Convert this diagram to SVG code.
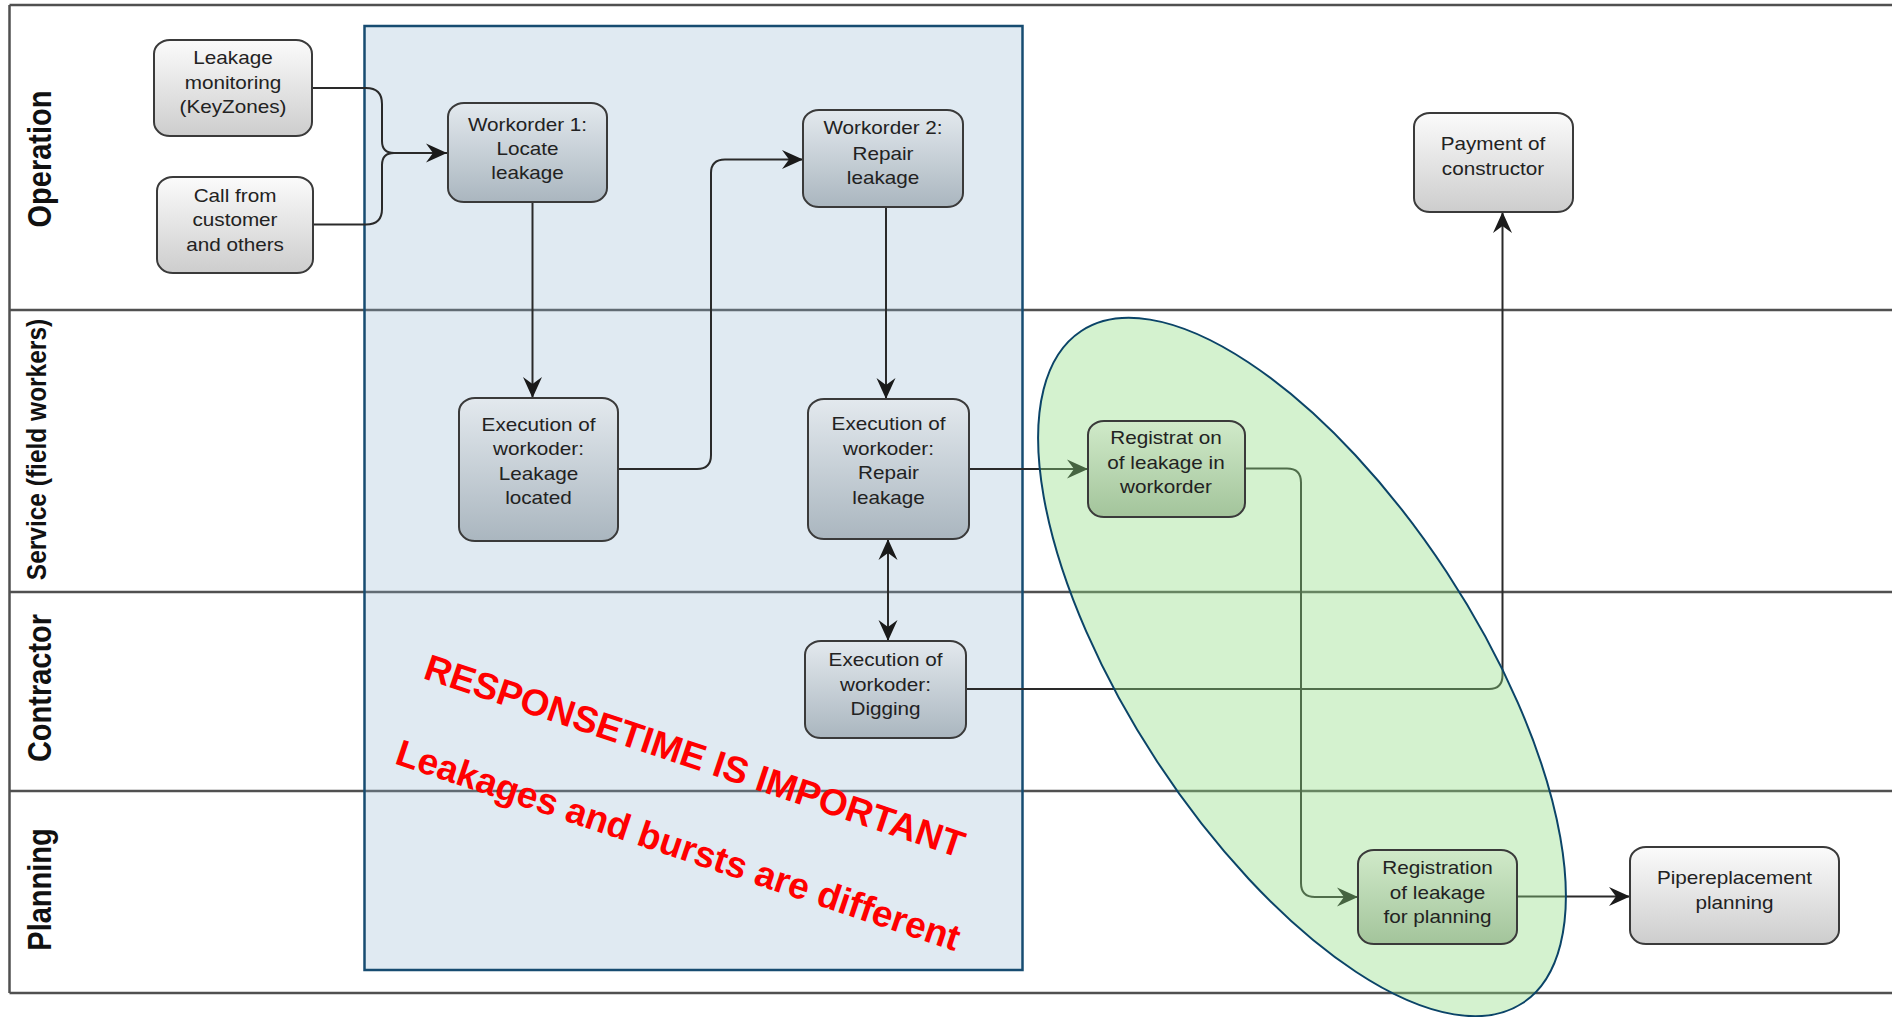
<svg xmlns="http://www.w3.org/2000/svg" width="1892" height="1017" viewBox="0 0 1892 1017">
<defs>
<style>
.lane{stroke:#505050;stroke-width:2.5;fill:none}
.lbl{font-family:"Liberation Sans",Arial,sans-serif;font-weight:bold;font-size:29px;fill:#111;text-anchor:middle}
.box{stroke:#3a3a3a;stroke-width:2}
.t{font-family:"Liberation Sans",Arial,sans-serif;font-size:18px;fill:#222;text-anchor:middle}
.c{fill:none;stroke:#2a2a2a;stroke-width:2}
.red{font-family:"Liberation Sans",Arial,sans-serif;font-weight:bold;font-size:37px;fill:#ff0000}
</style>
<linearGradient id="gGray" x1="0" y1="0" x2="0" y2="1">
<stop offset="0" stop-color="#fbfbfb"/><stop offset="1" stop-color="#cdcdcd"/>
</linearGradient>
<linearGradient id="gBlue" x1="0" y1="0" x2="0" y2="1">
<stop offset="0" stop-color="#e3e9ee"/><stop offset="1" stop-color="#aab6bf"/>
</linearGradient>
<linearGradient id="gGreen" x1="0" y1="0" x2="0" y2="1">
<stop offset="0" stop-color="#d0eac9"/><stop offset="1" stop-color="#a3c49b"/>
</linearGradient>
<marker id="arr" viewBox="-22 -11 23 22" refX="0" refY="0" markerWidth="23" markerHeight="22" markerUnits="userSpaceOnUse" orient="auto-start-reverse">
<path d="M0,0 L-21,-9.5 L-14,0 L-21,9.5 Z" fill="#1a1a1a"/>
</marker>
</defs>

<rect width="1892" height="1017" fill="#ffffff"/>

<g id="lanes">
<path class="lane" d="M9.5,5 H1892 M9.5,310 H1892 M9.5,592 H1892 M9.5,791 H1892 M9.5,993 H1892 M9.5,5 V993"/>
<text class="lbl" transform="translate(50.5,159) rotate(-90) scale(1,1.12)">Operation</text>
<text class="lbl" style="font-size:24.5px" transform="translate(46,449.5) rotate(-90) scale(1,1.12)">Service (field workers)</text>
<text class="lbl" transform="translate(51,688) rotate(-90) scale(1,1.12)">Contractor</text>
<text class="lbl" transform="translate(50.5,889.5) rotate(-90) scale(1,1.12)">Planning</text>
</g>

<rect id="response-area" x="364.5" y="26" width="658" height="944" fill="#8fb4d0" fill-opacity="0.28" stroke="#174c71" stroke-width="2.5"/>

<g id="connectors">
<path class="c" d="M313,88 H366 Q382,88 382,104 V141 Q382,153 394,153 H447" marker-end="url(#arr)"/>
<path class="c" d="M313,224.5 H366 Q382,224.5 382,209 V165 Q382,153 394,153"/>
<path class="c" d="M532.5,202 V398" marker-end="url(#arr)"/>
<path class="c" d="M618,469 H697 Q711,469 711,455 V173 Q711,159.5 725,159.5 H803" marker-end="url(#arr)"/>
<path class="c" d="M886,207 V399" marker-end="url(#arr)"/>
<path class="c" d="M969,469 H1088" marker-end="url(#arr)"/>
<path class="c" d="M888,539 V641" marker-start="url(#arr)" marker-end="url(#arr)"/>
<path class="c" d="M966,689 H1489 Q1502.5,689 1502.5,675 V212" marker-end="url(#arr)"/>
<path class="c" d="M1245,468.5 H1287 Q1301,468.5 1301,482.5 V883 Q1301,897 1315,897 H1358" marker-end="url(#arr)"/>
<path class="c" d="M1517,896.5 H1630" marker-end="url(#arr)"/>
</g>

<ellipse id="registration-area" cx="1302" cy="667" rx="402" ry="173" transform="rotate(56.7 1302 667)" fill="#8fdc80" fill-opacity="0.38" stroke="#0b4468" stroke-width="2"/>

<g id="leakage-monitoring">
<rect class="box" x="154" y="40" width="158" height="96" rx="16" ry="14" fill="url(#gGray)"/>
<text class="t" transform="translate(233,0) scale(1.15,1)"><tspan x="0" y="64">Leakage</tspan><tspan x="0" y="89">monitoring</tspan><tspan x="0" y="113.5">(KeyZones)</tspan></text>
</g>
<g id="call-from-customer">
<rect class="box" x="157" y="177" width="156" height="96" rx="16" ry="14" fill="url(#gGray)"/>
<text class="t" transform="translate(235,0) scale(1.15,1)"><tspan x="0" y="202">Call from</tspan><tspan x="0" y="226.5">customer</tspan><tspan x="0" y="251">and others</tspan></text>
</g>
<g id="workorder-1">
<rect class="box" x="448" y="103" width="159" height="99" rx="16" ry="14" fill="url(#gBlue)"/>
<text class="t" transform="translate(527.5,0) scale(1.15,1)"><tspan x="0" y="131">Workorder 1:</tspan><tspan x="0" y="155">Locate</tspan><tspan x="0" y="179">leakage</tspan></text>
</g>
<g id="exec-located">
<rect class="box" x="459" y="398" width="159" height="143" rx="16" ry="14" fill="url(#gBlue)"/>
<text class="t" transform="translate(538.5,0) scale(1.15,1)"><tspan x="0" y="431">Execution of</tspan><tspan x="0" y="455.5">workoder:</tspan><tspan x="0" y="480">Leakage</tspan><tspan x="0" y="504.5">located</tspan></text>
</g>
<g id="workorder-2">
<rect class="box" x="803" y="110" width="160" height="97" rx="16" ry="14" fill="url(#gBlue)"/>
<text class="t" transform="translate(883,0) scale(1.15,1)"><tspan x="0" y="134.5">Workorder 2:</tspan><tspan x="0" y="160">Repair</tspan><tspan x="0" y="184.5">leakage</tspan></text>
</g>
<g id="exec-repair">
<rect class="box" x="808" y="399" width="161" height="140" rx="16" ry="14" fill="url(#gBlue)"/>
<text class="t" transform="translate(888.5,0) scale(1.15,1)"><tspan x="0" y="430.5">Execution of</tspan><tspan x="0" y="455">workoder:</tspan><tspan x="0" y="479.5">Repair</tspan><tspan x="0" y="504">leakage</tspan></text>
</g>
<g id="exec-digging">
<rect class="box" x="805" y="641" width="161" height="97" rx="16" ry="14" fill="url(#gBlue)"/>
<text class="t" transform="translate(885.5,0) scale(1.15,1)"><tspan x="0" y="666">Execution of</tspan><tspan x="0" y="691">workoder:</tspan><tspan x="0" y="715.5">Digging</tspan></text>
</g>
<g id="registration-workorder">
<rect class="box" x="1088" y="421" width="157" height="96" rx="16" ry="14" fill="url(#gGreen)" stroke="#2f472c"/>
<text class="t" fill="#1e2b1c" transform="translate(1166,0) scale(1.15,1)"><tspan x="0" y="444.5">Registrat on</tspan><tspan x="0" y="469.5">of leakage in</tspan><tspan x="0" y="493.5">workorder</tspan></text>
</g>
<g id="payment">
<rect class="box" x="1414" y="113" width="159" height="99" rx="16" ry="14" fill="url(#gGray)"/>
<text class="t" transform="translate(1493,0) scale(1.15,1)"><tspan x="0" y="150">Payment of</tspan><tspan x="0" y="175">constructor</tspan></text>
</g>
<g id="registration-planning">
<rect class="box" x="1358" y="850" width="159" height="94" rx="16" ry="14" fill="url(#gGreen)" stroke="#2f472c"/>
<text class="t" transform="translate(1437.5,0) scale(1.15,1)"><tspan x="0" y="874.5">Registration</tspan><tspan x="0" y="899.5">of leakage</tspan><tspan x="0" y="923.5">for planning</tspan></text>
</g>
<g id="pipereplacement">
<rect class="box" x="1630" y="847" width="209" height="97" rx="16" ry="14" fill="url(#gGray)"/>
<text class="t" transform="translate(1734.5,0) scale(1.15,1)"><tspan x="0" y="884.5">Pipereplacement</tspan><tspan x="0" y="909">planning</tspan></text>
</g>

<g id="annotation" transform="translate(422,678) rotate(18.5)">
<text class="red" x="0" y="0">RESPONSETIME IS IMPORTANT</text>
<text class="red" x="0" y="90">Leakages and bursts are different</text>
</g>
</svg>
